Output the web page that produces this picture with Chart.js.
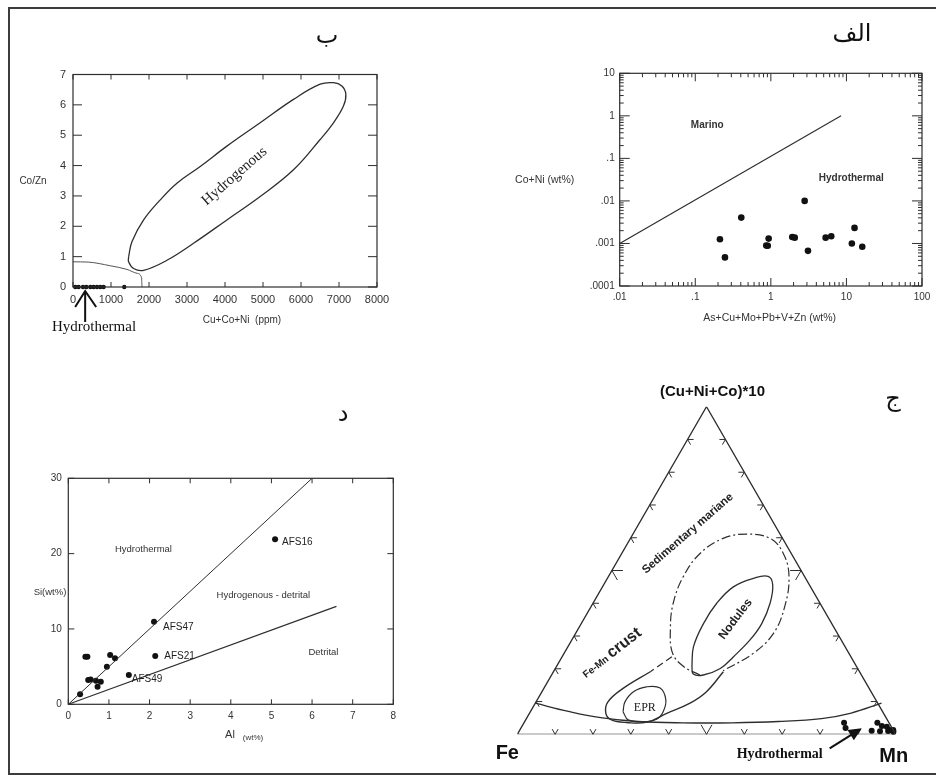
<!DOCTYPE html>
<html lang="fa">
<head>
<meta charset="utf-8">
<title>Geochemical discrimination diagrams</title>
<script src="https://cdn.jsdelivr.net/npm/chart.js@4.4.1/dist/chart.umd.min.js"></script>
<style>
  html, body { margin: 0; background: #fff; }
  #page { position: relative; width: 936px; height: 775px; overflow: hidden; }
  #frame { position: absolute; left: 8px; top: 7px; width: 940px; height: 768px;
           border: 2px solid #3c3c3c; border-right: none; box-sizing: border-box; }
  canvas { position: absolute; }
  .tag { position: absolute; transform: translate(-50%, -50%); font: 24px 'DejaVu Sans'; color: #111; white-space: nowrap; }
</style>
</head>
<body>
<div id="page">
  <div id="frame"></div>
  <canvas id="chartB" width="468" height="360" style="left:0;top:0"></canvas>
  <canvas id="chartA" width="468" height="360" style="left:468px;top:0"></canvas>
  <canvas id="chartD" width="468" height="415" style="left:0;top:360px"></canvas>
  <canvas id="chartJ" width="468" height="415" style="left:468px;top:360px"></canvas>
  <div class="tag" style="left:327px;top:35px">ب</div>
  <div class="tag" style="left:852px;top:33px">الف</div>
  <div class="tag" style="left:893px;top:398px">ج</div>
  <div class="tag" style="left:343px;top:413px">د</div>
</div>
<script>
// ---- panel ب : Co/Zn vs Cu+Co+Ni (ppm)
const bTicksX = [0, 1000, 2000, 3000, 4000, 5000, 6000, 7000, 8000];
const bLabelsX = ['0', '1000', '2000', '3000', '4000', '5000', '6000', '7000', '8000'];
const bTicksY = [0, 1, 2, 3, 4, 5, 6, 7];
const bLabelsY = ['0', '1', '2', '3', '4', '5', '6', '7'];
const bSamplesX = [60, 147, 263, 350, 455, 542, 631, 718, 805, 1349];
const bSamplesY = [0, 0, 0, 0, 0, 0, 0, 0, 0, 0];
const bHydrogenousZone = [[1463, 0.99], [1551, 1.49], [1858, 2.21], [2296, 2.87], [2735, 3.42], [3348, 3.97],
  [4050, 4.64], [4926, 5.41], [5802, 6.18], [6504, 6.68], [6854, 6.73], [7075, 6.62], [7180, 6.35],
  [7117, 5.96], [6854, 5.41], [6504, 4.86], [5802, 3.86], [4926, 2.98], [4050, 2.21], [3172, 1.44],
  [2472, 0.88], [1858, 0.55], [1594, 0.61], [1463, 0.83], [1463, 0.99]];
const bHydrothermalZone = [[0, 0.83], [400, 0.82], [980, 0.70], [1420, 0.58], [1690, 0.45], [1805, 0.30], [1815, 0]];

// ---- panel الف : Co+Ni vs As+Cu+Mo+Pb+V+Zn (wt%), log-log
const aDecadesX = [0.01, 0.1, 1, 10, 100];
const aLabelsX = ['.01', '.1', '1', '10', '100'];
const aDecadesY = [0.0001, 0.001, 0.01, 0.1, 1, 10];
const aLabelsY = ['.0001', '.001', '.01', '.1', '1', '10'];
const aSamplesX = [0.212, 0.247, 0.406, 0.87, 0.91, 0.935, 1.92, 2.07, 2.80, 3.10, 5.31, 6.30, 11.8, 12.8, 16.2];
const aSamplesY = [0.00126, 0.00047, 0.00405, 0.00089, 0.00088, 0.0013, 0.00142, 0.00137, 0.010, 0.00067, 0.00137, 0.00148, 0.0010, 0.00232, 0.00084];
const aBoundary = [[0.01, 0.001], [8.5, 1]];

// ---- panel د : Si vs Al (wt%)
const dTicksX = [0, 1, 2, 3, 4, 5, 6, 7, 8];
const dLabelsX = ['0', '1', '2', '3', '4', '5', '6', '7', '8'];
const dTicksY = [0, 10, 20, 30];
const dLabelsY = ['0', '10', '20', '30'];
const dSamplesAl = [5.09, 2.11, 2.14, 1.49, 0.42, 0.47, 1.03, 1.15, 0.95, 0.49, 0.55, 0.68, 0.80, 0.72, 0.29];
const dSamplesSi = [21.9, 10.97, 6.41, 3.89, 6.32, 6.32, 6.55, 6.11, 5.0, 3.23, 3.30, 3.14, 3.0, 2.34, 1.33];
const dNamed = ['AFS16', 'AFS47', 'AFS21', 'AFS49'];
const dHydroLine = [[0, 0], [6, 30]];
const dDetritalLine = [[0, 0], [6.6, 13]];

// ---- panel ج : ternary Fe – Mn – (Cu+Ni+Co)*10, points as [Mn %, (Cu+Ni+Co)*10 %]
const jTriangle = [[0, 0], [100, 0], [0, 100], [0, 0]];
const jTickMarks = [10, 20, 30, 40, 50, 60, 70, 80, 90];
const jHydroCurve = [[0, 9.5], [10, 7.0], [20, 5.0], [30, 3.9], [42, 3.5], [55, 3.5], [67, 3.9], [78, 4.8], [85, 6.5], [91.5, 9.5]];
const jEPR = [[24.5, 6.9], [23.5, 9.9], [24.2, 13.0], [26.9, 14.5], [30.7, 14.1], [34.0, 10.5], [35.1, 6.9],
  [34.5, 4.6], [31.4, 3.8], [27.1, 4.4], [24.5, 6.9]];
const jCrust = [[25.6, 19.1], [21.0, 14.1], [19.0, 9.9], [20.2, 6.4], [22.7, 4.4], [27.1, 3.6], [32.4, 3.7],
  [36.3, 6.4], [40.9, 9.5], [43.5, 13.0], [44.9, 19.1]];
const jCrustDashed = [[29.0, 23.7], [25.6, 19.1]];
const jEnvelope = [[39.2, 18.1], [33.6, 20.7], [28.7, 24.7], [24.5, 31.9], [21.2, 40.0], [19.8, 48.2], [20.7, 55.2],
  [24.5, 59.8], [30.1, 61.1], [36.9, 59.8], [42.7, 55.2], [47.7, 48.2], [51.2, 38.9], [52.3, 30.8], [50.0, 24.7], [44.7, 19.4]];
const jNodules = [[35.8, 20.7], [33.2, 26.7], [32.3, 33.8], [32.7, 40.0], [34.6, 45.0], [38.6, 47.6], [42.2, 48.2],
  [44.7, 45.6], [46.8, 40.0], [47.7, 33.8], [47.1, 28.8], [45.3, 23.7], [43.6, 20.1], [40.1, 18.1], [37.3, 18.4], [35.8, 20.7]];
const jSamples = [[84.6, 3.5], [85.8, 1.9], [93.1, 1.1], [93.4, 3.5], [95.1, 2.5], [96.5, 2.3], [97.8, 1.3],
  [99.0, 0.8], [98.7, 1.3], [97.5, 1.0], [95.4, 0.9]];

const INK = '#2e2e2e';
const TXT = '#333';
const SANS = '"Liberation Sans", Arial, sans-serif';
const SERIF = '"Liberation Serif", "Times New Roman", serif';
const SQ = Math.sqrt(3) / 2;

const xy = list => list.map(([x, y]) => ({ x, y }));
const zip = (xs, ys) => xs.map((v, i) => ({ x: v, y: ys[i] }));
const tern = ([mn, cu]) => ({ x: (mn + cu / 2) / 100, y: cu / 100 * SQ });
const minors = decades => decades.slice(0, -1).flatMap(d => [2, 3, 4, 5, 6, 7, 8, 9].map(k => d * k));

function axis(ticks, labels, size, pad, extra) {
  return Object.assign({
    min: ticks[0], max: ticks[ticks.length - 1],
    grid: { display: false, drawTicks: false },
    border: { display: false },
    afterBuildTicks: s => { s.ticks = ticks.map(v => ({ value: v })); },
    ticks: { autoSkip: false, maxRotation: 0, padding: pad, color: TXT,
             font: { family: SANS, size }, callback: (v, i) => labels[i] }
  }, extra);
}

function say(ctx, str, x, y, font, opt = {}) {
  ctx.save();
  ctx.translate(x, y);
  ctx.rotate((opt.angle || 0) * Math.PI / 180);
  ctx.font = font;
  ctx.fillStyle = opt.color || TXT;
  ctx.textAlign = opt.align || 'center';
  ctx.textBaseline = 'middle';
  ctx.fillText(str, 0, 0);
  ctx.restore();
}

function frameTicks(chart, o) {
  const { ctx, chartArea: a } = chart;
  const { x, y } = chart.scales;
  ctx.save();
  ctx.strokeStyle = INK;
  ctx.lineWidth = 1.2;
  ctx.strokeRect(a.left, a.top, a.right - a.left, a.bottom - a.top);
  ctx.lineWidth = 1;
  ctx.beginPath();
  const vx = (vals, len) => vals.forEach(v => {
    const p = x.getPixelForValue(v);
    ctx.moveTo(p, a.bottom); ctx.lineTo(p, a.bottom - len);
    ctx.moveTo(p, a.top); ctx.lineTo(p, a.top + len);
  });
  const hy = (vals, len) => vals.forEach(v => {
    const p = y.getPixelForValue(v);
    ctx.moveTo(a.left, p); ctx.lineTo(a.left + len, p);
    ctx.moveTo(a.right, p); ctx.lineTo(a.right - len, p);
  });
  vx(o.x, o.xLen);
  hy(o.y, o.yLen);
  if (o.xMinor) vx(o.xMinor, o.minLen);
  if (o.yMinor) hy(o.yMinor, o.minLen);
  ctx.stroke();
  ctx.restore();
}

const base = {
  responsive: false,
  animation: false,
  events: [],
  plugins: { legend: { display: false }, tooltip: { enabled: false } }
};

// ب
new Chart(document.getElementById('chartB'), {
  type: 'scatter',
  data: {
    datasets: [
      { data: xy(bHydrogenousZone), showLine: true, pointRadius: 0, borderColor: INK, borderWidth: 1.3, tension: 0.4 },
      { data: xy(bHydrothermalZone), showLine: true, pointRadius: 0, borderColor: '#555', borderWidth: 1, cubicInterpolationMode: 'monotone' },
      { data: zip(bSamplesX, bSamplesY), pointRadius: 2.2, backgroundColor: '#111', borderWidth: 0, clip: false }
    ]
  },
  options: Object.assign({}, base, {
    layout: { padding: { top: 74.5, right: 91 } },
    scales: {
      x: axis(bTicksX, bLabelsX, 11, 6, { type: 'linear', afterFit: s => { s.height = 73; } }),
      y: axis(bTicksY, bLabelsY, 11, 7, { type: 'linear', afterFit: s => { s.width = 73; } })
    }
  }),
  plugins: [{
    id: 'bDecor',
    afterDraw(chart) {
      const { ctx } = chart;
      const { x, y } = chart.scales;
      frameTicks(chart, { x: bTicksX, y: bTicksY, xLen: 5, yLen: 9 });
      say(ctx, 'Hydrogenous', x.getPixelForValue(4250), y.getPixelForValue(3.65), `15px ${SERIF}`, { angle: -41, color: '#222' });
      say(ctx, 'Co/Zn', 33, 181, `10px ${SANS}`);
      say(ctx, 'Cu+Co+Ni  (ppm)', 242, 320, `10px ${SANS}`);
      // arrow pointing at the hydrothermal samples
      const ax = x.getPixelForValue(320), top = y.getPixelForValue(0) + 4;
      ctx.save();
      ctx.strokeStyle = '#111';
      ctx.lineWidth = 2;
      ctx.beginPath();
      ctx.moveTo(ax, top + 31); ctx.lineTo(ax, top);
      ctx.moveTo(ax - 10, top + 16); ctx.lineTo(ax, top); ctx.lineTo(ax + 11, top + 16);
      ctx.stroke();
      ctx.restore();
      say(ctx, 'Hydrothermal', 94, 327, `15px ${SERIF}`, { color: '#111' });
    }
  }]
});

// الف
new Chart(document.getElementById('chartA'), {
  type: 'scatter',
  data: {
    datasets: [
      { data: xy(aBoundary), showLine: true, pointRadius: 0, borderColor: INK, borderWidth: 1.2 },
      { data: zip(aSamplesX, aSamplesY), pointRadius: 3.3, backgroundColor: '#111', borderWidth: 0 }
    ]
  },
  options: Object.assign({}, base, {
    layout: { padding: { top: 73.3, right: 14 } },
    scales: {
      x: axis(aDecadesX, aLabelsX, 10, 5, { type: 'logarithmic', afterFit: s => { s.height = 74; } }),
      y: axis(aDecadesY, aLabelsY, 10, 5, { type: 'logarithmic', afterFit: s => { s.width = 151.7; } })
    }
  }),
  plugins: [{
    id: 'aDecor',
    afterDraw(chart) {
      const { ctx } = chart;
      const { x, y } = chart.scales;
      frameTicks(chart, { x: aDecadesX, y: aDecadesY, xLen: 8, yLen: 10,
                          xMinor: minors(aDecadesX), yMinor: minors(aDecadesY), minLen: 4 });
      say(ctx, 'Marino', x.getPixelForValue(0.144), y.getPixelForValue(0.6), `bold 10px ${SANS}`);
      say(ctx, 'Hydrothermal', x.getPixelForValue(11.6), y.getPixelForValue(0.034), `bold 10px ${SANS}`);
      say(ctx, 'Co+Ni (wt%)', 76.7, 180, `10.5px ${SANS}`);
      say(ctx, 'As+Cu+Mo+Pb+V+Zn (wt%)', 301.7, 318, `10.5px ${SANS}`);
    }
  }]
});

// د
new Chart(document.getElementById('chartD'), {
  type: 'scatter',
  data: {
    datasets: [
      { data: xy(dHydroLine), showLine: true, pointRadius: 0, borderColor: INK, borderWidth: 1 },
      { data: xy(dDetritalLine), showLine: true, pointRadius: 0, borderColor: INK, borderWidth: 1.2 },
      { data: zip(dSamplesAl, dSamplesSi), pointRadius: 3, backgroundColor: '#111', borderWidth: 0 }
    ]
  },
  options: Object.assign({}, base, {
    layout: { padding: { top: 118.3, right: 74.7 } },
    scales: {
      x: axis(dTicksX, dLabelsX, 10, 6, { type: 'linear', afterFit: s => { s.height = 70.7; } }),
      y: axis(dTicksY, dLabelsY, 10, 6.5, { type: 'linear', afterFit: s => { s.width = 68.3; } })
    }
  }),
  plugins: [{
    id: 'dDecor',
    afterDraw(chart) {
      const { ctx } = chart;
      const { x, y } = chart.scales;
      frameTicks(chart, { x: dTicksX, y: dTicksY, xLen: 5, yLen: 6 });
      const offsets = [[7, 3], [9, 6], [9, 0], [3, 4]];
      dNamed.forEach((name, i) => {
        say(ctx, name, x.getPixelForValue(dSamplesAl[i]) + offsets[i][0], y.getPixelForValue(dSamplesSi[i]) + offsets[i][1],
            `10px ${SANS}`, { align: 'left', color: '#222' });
      });
      say(ctx, 'Hydrothermal', x.getPixelForValue(1.85), y.getPixelForValue(20.5), `9.5px ${SANS}`);
      say(ctx, 'Hydrogenous - detrital', x.getPixelForValue(4.8), y.getPixelForValue(14.4), `9.5px ${SANS}`);
      say(ctx, 'Detrital', x.getPixelForValue(6.28), y.getPixelForValue(6.9), `9.5px ${SANS}`);
      say(ctx, 'Si(wt%)', 50, 232, `9.5px ${SANS}`);
      say(ctx, 'Al', 230, 375, `11px ${SANS}`);
      say(ctx, '(wt%)', 253, 378, `8px ${SANS}`);
    }
  }]
});

// ج
const outline = (pts, extra) => Object.assign({ data: pts.map(tern), showLine: true, pointRadius: 0, borderColor: INK, borderWidth: 1.2, tension: 0.4 }, extra);
new Chart(document.getElementById('chartJ'), {
  type: 'scatter',
  data: {
    datasets: [
      outline(jTriangle, { tension: 0, borderWidth: 1.3 }),
      outline(jHydroCurve, { borderWidth: 1.3 }),
      outline(jEPR),
      outline(jCrust, { borderWidth: 1.4 }),
      outline(jCrustDashed, { tension: 0, borderDash: [7, 4] }),
      outline(jEnvelope, { borderDash: [9, 3, 2, 3] }),
      outline(jNodules, { borderWidth: 1.3 }),
      { data: jSamples.map(tern), pointRadius: 3, backgroundColor: '#111', borderWidth: 0, clip: false }
    ]
  },
  options: Object.assign({}, base, {
    layout: { padding: { left: 49.3, right: 40.3, top: 46.7, bottom: 40.7 } },
    scales: {
      x: { type: 'linear', display: false, min: 0, max: 1 },
      y: { type: 'linear', display: false, min: 0, max: SQ }
    }
  }),
  plugins: [{
    id: 'jDecor',
    afterDraw(chart) {
      const { ctx } = chart;
      const { x, y } = chart.scales;
      const at = p => { const q = tern(p); return [x.getPixelForValue(q.x), y.getPixelForValue(q.y)]; };
      ctx.save();
      ctx.strokeStyle = INK;
      ctx.lineWidth = 1;
      ctx.beginPath();
      jTickMarks.forEach(t => {
        const len = t === 50 ? 11 : 6;
        [
          { p: [t, 0], dirs: [[0.5, SQ], [-0.5, SQ]] },
          { p: [0, t], dirs: [[1, 0], [0.5, -SQ]] },
          { p: [100 - t, t], dirs: [[-1, 0], [-0.5, -SQ]] }
        ].forEach(side => {
          const [sx, sy] = at(side.p);
          side.dirs.forEach(([dx, dy]) => { ctx.moveTo(sx, sy); ctx.lineTo(sx + dx * len, sy - dy * len); });
        });
      });
      ctx.stroke();
      ctx.restore();

      const [fx, fy] = at([0, 0]);
      const [mx, my] = at([100, 0]);
      const [cx, cy] = at([0, 100]);
      say(ctx, '(Cu+Ni+Co)*10', cx + 6, cy - 15, `bold 15px ${SANS}`, { color: '#111' });
      say(ctx, 'Fe', fx - 10, fy + 19, `bold 20px ${SANS}`, { color: '#111' });
      say(ctx, 'Mn', mx - 2, my + 22, `bold 20px ${SANS}`, { color: '#111' });
      say(ctx, 'Hydrothermal', mx - 116, my + 20, `bold 14px ${SERIF}`, { color: '#111' });

      let [lx, ly] = at([14.4, 61.3]);
      say(ctx, 'Sedimentary mariane', lx, ly, `bold 11.5px ${SANS}`, { angle: -41, color: '#222' });
      [lx, ly] = at([40.1, 35.2]);
      say(ctx, 'Nodules', lx, ly, `bold 12px ${SANS}`, { angle: -53, color: '#222' });
      [lx, ly] = at([29.6, 8.2]);
      say(ctx, 'EPR', lx, ly, `12px ${SERIF}`, { color: '#222' });

      // "Fe-Mn crust" with a small prefix and a larger word
      [lx, ly] = at([12.3, 25.0]);
      ctx.save();
      ctx.translate(lx, ly);
      ctx.rotate(-38 * Math.PI / 180);
      ctx.fillStyle = '#222';
      ctx.textBaseline = 'alphabetic';
      ctx.font = `bold 10px ${SANS}`;
      const w1 = ctx.measureText('Fe-Mn ').width;
      ctx.font = `bold 16px ${SANS}`;
      const w2 = ctx.measureText('crust').width;
      const start = -(w1 + w2) / 2;
      ctx.font = `bold 10px ${SANS}`;
      ctx.fillText('Fe-Mn ', start, 5);
      ctx.font = `bold 16px ${SANS}`;
      ctx.fillText('crust', start + w1, 5);
      ctx.restore();

      // arrow to the hydrothermal samples
      const tx = mx - 34, ty = my - 6, sx = mx - 66, sy = my + 14;
      const ang = Math.atan2(ty - sy, tx - sx);
      ctx.save();
      ctx.strokeStyle = '#111';
      ctx.fillStyle = '#111';
      ctx.lineWidth = 2;
      ctx.beginPath();
      ctx.moveTo(sx, sy);
      ctx.lineTo(tx - 10 * Math.cos(ang), ty - 10 * Math.sin(ang));
      ctx.stroke();
      ctx.beginPath();
      ctx.moveTo(tx, ty);
      ctx.lineTo(tx - 13 * Math.cos(ang) + 6 * Math.sin(ang), ty - 13 * Math.sin(ang) - 6 * Math.cos(ang));
      ctx.lineTo(tx - 13 * Math.cos(ang) - 6 * Math.sin(ang), ty - 13 * Math.sin(ang) + 6 * Math.cos(ang));
      ctx.closePath();
      ctx.fill();
      ctx.restore();
    }
  }]
});
</script>
</body>
</html>
